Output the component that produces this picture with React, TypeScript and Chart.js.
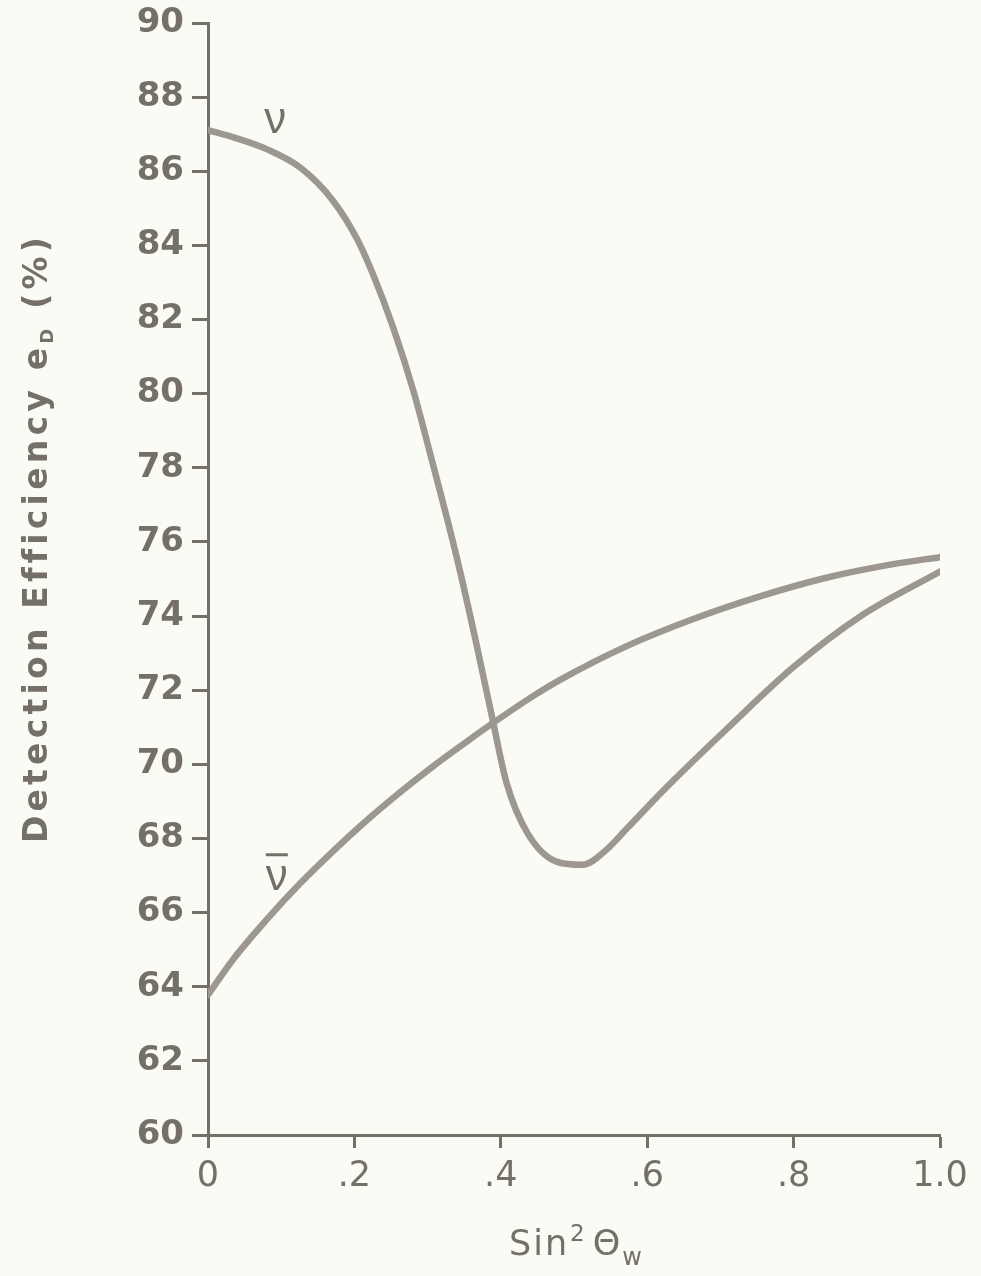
import React, { useEffect, useRef } from "react";
import { Chart, registerables } from "chart.js";

Chart.register(...registerables);

// Neutrino (ν) detection efficiency vs sin²θw
const nuX = [0, 0.034, 0.081, 0.126, 0.171, 0.204, 0.225, 0.253, 0.281, 0.303, 0.34, 0.367, 0.389, 0.408, 0.436, 0.477, 0.512, 0.54, 0.572, 0.613, 0.635, 0.709, 0.799, 0.891, 1.0];
const nuY = [87.11, 86.92, 86.59, 86.1, 85.2, 84.16, 83.24, 81.78, 80.05, 78.42, 75.57, 73.22, 71.19, 69.49, 68.16, 67.37, 67.29, 67.62, 68.26, 69.11, 69.55, 70.96, 72.61, 73.99, 75.2];

// Antineutrino (ν̄) detection efficiency vs sin²θw
const nuBarX = [0, 0.034, 0.081, 0.126, 0.171, 0.217, 0.262, 0.307, 0.354, 0.389, 0.444, 0.481, 0.572, 0.663, 0.754, 0.846, 0.936, 1.0];
const nuBarY = [63.78, 64.73, 65.83, 66.79, 67.66, 68.49, 69.24, 69.94, 70.62, 71.11, 71.84, 72.28, 73.19, 73.92, 74.53, 75.04, 75.4, 75.59];

const xTickValues = [0, 0.2, 0.4, 0.6, 0.8, 1.0];
const xTickLabels = ["0", ".2", ".4", ".6", ".8", "1.0"];
const yMin = 60;
const yMax = 90;
const yStep = 2;

const INK = "#747067";
const CURVE = "#9d988f";
const PAPER = "#fbfbf6";
const FONT = "'DejaVu Sans', 'Noto Sans', sans-serif";

const toPoints = (xs: number[], ys: number[]) => xs.map((x, i) => ({ x, y: ys[i] }));

const paperPlugin = {
  id: "paper",
  beforeDraw(chart: any) {
    const { ctx, width, height } = chart;
    ctx.save();
    ctx.fillStyle = PAPER;
    ctx.fillRect(0, 0, width, height);
    ctx.restore();
  },
};

const labelsPlugin = {
  id: "curveLabels",
  afterDraw(chart: any) {
    const ctx: any = chart.ctx;
    const xs = chart.scales.x;
    const ys = chart.scales.y;
    ctx.save();
    ctx.fillStyle = INK;
    ctx.strokeStyle = INK;

    // curve names
    ctx.font = `44px 'Liberation Sans', ${FONT}`;
    ctx.textAlign = "center";
    ctx.textBaseline = "middle";
    const nuPx = xs.getPixelForValue(0.092);
    const nuPy = ys.getPixelForValue(87.35);
    ctx.fillText("ν", nuPx, nuPy);

    const barPx = xs.getPixelForValue(0.094);
    const barPy = ys.getPixelForValue(66.94);
    ctx.fillText("ν", barPx, barPy);
    ctx.lineWidth = 3;
    ctx.beginPath();
    ctx.moveTo(barPx - 11, barPy - 23);
    ctx.lineTo(barPx + 11, barPy - 23);
    ctx.stroke();

    // x-axis title: Sin² Θw
    ctx.textAlign = "left";
    ctx.textBaseline = "alphabetic";
    ctx.letterSpacing = "2px";
    let x = 509;
    const base = 1255;
    ctx.font = `35px ${FONT}`;
    ctx.fillText("Sin", x, base);
    x += ctx.measureText("Sin").width + 1;
    ctx.font = `23px ${FONT}`;
    ctx.fillText("2", x, base - 14);
    x += ctx.measureText("2").width + 6;
    ctx.font = `35px ${FONT}`;
    ctx.fillText("Θ", x, base);
    x += ctx.measureText("Θ").width;
    ctx.font = `24px ${FONT}`;
    ctx.fillText("w", x, base + 10);

    // y-axis title: Detection Efficiency e_D (%)
    ctx.translate(47, 538);
    ctx.rotate(-Math.PI / 2);
    const mainFont = `bold 33px ${FONT}`;
    const subFont = `bold 18px ${FONT}`;
    const p1 = "Detection Efficiency e";
    const p2 = "D";
    const p3 = " (%)";
    const target = 607;
    ctx.letterSpacing = "0px";
    ctx.font = mainFont;
    const raw = ctx.measureText(p1 + p3).width;
    ctx.font = subFont;
    const rawSub = ctx.measureText(p2).width;
    const nChars = (p1 + p2 + p3).length;
    const spacing = Math.max(0, (target - raw - rawSub) / nChars);
    ctx.letterSpacing = `${spacing}px`;
    ctx.font = mainFont;
    const w1 = ctx.measureText(p1).width;
    const w3 = ctx.measureText(p3).width;
    ctx.font = subFont;
    const w2 = ctx.measureText(p2).width;
    let tx = -(w1 + w2 + w3) / 2;
    ctx.font = mainFont;
    ctx.fillText(p1, tx, 0);
    tx += w1;
    ctx.font = subFont;
    ctx.fillText(p2, tx, 6);
    tx += w2;
    ctx.font = mainFont;
    ctx.fillText(p3, tx, 0);
    ctx.restore();
  },
};

export default function App() {
  const canvasRef = useRef<HTMLCanvasElement | null>(null);

  useEffect(() => {
    document.body.style.margin = "0";
    document.body.style.background = PAPER;
    const canvas = canvasRef.current;
    if (!canvas) return;
    const line = {
      showLine: true,
      borderColor: CURVE,
      borderWidth: 6.5,
      borderCapStyle: "round",
      borderJoinStyle: "round",
      cubicInterpolationMode: "monotone",
      pointRadius: 0,
      fill: false,
    };
    const chart = new Chart(canvas, {
      type: "scatter",
      data: {
        datasets: [
          { label: "ν", data: toPoints(nuX, nuY), ...line },
          { label: "ν̄", data: toPoints(nuBarX, nuBarY), ...line },
        ],
      },
      options: {
        responsive: false,
        animation: false,
        layout: { padding: { left: 0, right: 41, top: 23, bottom: 0 } },
        plugins: {
          legend: { display: false },
          tooltip: { enabled: false },
          title: { display: false },
        },
        scales: {
          x: {
            type: "linear",
            min: 0,
            max: 1,
            afterBuildTicks: (scale: any) => {
              scale.ticks = xTickValues.map((v) => ({ value: v }));
            },
            afterFit: (scale: any) => {
              scale.height = 141;
              scale.paddingLeft = 0;
              scale.paddingRight = 0;
            },
            ticks: {
              color: INK,
              padding: 8,
              font: { family: FONT, size: 35 },
              maxRotation: 0,
              callback: (v: any) => {
                const i = xTickValues.findIndex((t) => Math.abs(t - Number(v)) < 1e-6);
                return i >= 0 ? xTickLabels[i] : "";
              },
            },
            grid: {
              drawOnChartArea: false,
              drawTicks: true,
              tickLength: 13,
              tickWidth: 3,
              tickColor: INK,
            },
            border: { display: true, color: INK, width: 3 },
          },
          y: {
            type: "linear",
            min: yMin,
            max: yMax,
            afterFit: (scale: any) => {
              scale.width = 208;
              scale.paddingTop = 0;
              scale.paddingBottom = 0;
            },
            ticks: {
              stepSize: yStep,
              color: INK,
              padding: 8,
              font: { family: FONT, size: 34, weight: "bold" },
            },
            grid: {
              drawOnChartArea: false,
              drawTicks: true,
              tickLength: 16,
              tickWidth: 3,
              tickColor: INK,
            },
            border: { display: true, color: INK, width: 3 },
          },
        },
      },
      plugins: [paperPlugin, labelsPlugin],
    } as any);
    return () => chart.destroy();
  }, []);

  return (
    <div style={{ width: 981, height: 1276, background: PAPER }}>
      <canvas ref={canvasRef} width={981} height={1276} style={{ display: "block" }} />
    </div>
  );
}
